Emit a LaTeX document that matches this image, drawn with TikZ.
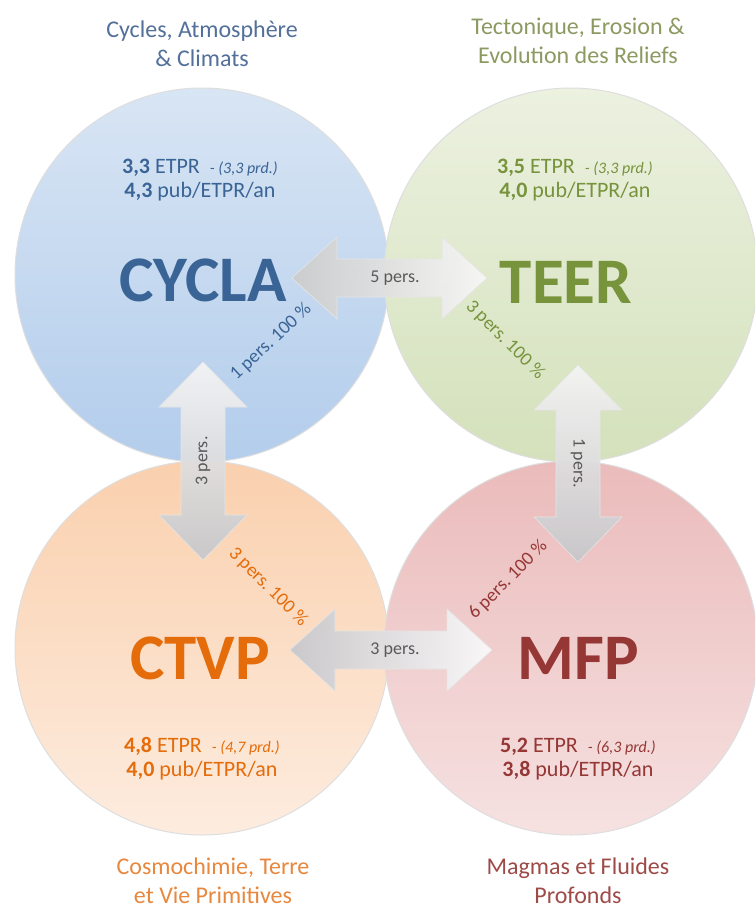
\documentclass[tikz,border=0pt]{standalone}
\usepackage{fontspec}
\setmainfont{Carlito}
\frenchspacing
\definecolor{cyB}{HTML}{3A6496}
\definecolor{cyT}{HTML}{52709A}
\definecolor{teG}{HTML}{77933C}
\definecolor{teT}{HTML}{8C9A62}
\definecolor{ctO}{HTML}{E46C0A}
\definecolor{ctT}{HTML}{E8883E}
\definecolor{mfR}{HTML}{953735}
\definecolor{mfT}{HTML}{9E4B48}
\definecolor{cyTop}{HTML}{D8E5F4}
\definecolor{cyBot}{HTML}{B3CDEC}
\definecolor{teTop}{HTML}{ECF1E0}
\definecolor{teBot}{HTML}{D4E1BB}
\definecolor{ctTop}{HTML}{FAD0AE}
\definecolor{ctBot}{HTML}{FDECDF}
\definecolor{mfTop}{HTML}{EBBBBB}
\definecolor{mfBot}{HTML}{F6E1E1}
\definecolor{arrowTxt}{HTML}{595959}
\newcommand\harrowpath[4]{\path[#4] (#1,#3) -- ++(45,-41) -- ++(0,22) -- ({#2-45},{#3-19}) -- ++(0,-22) -- (#2,#3) -- ({#2-45},{#3+41}) -- ++(0,-22) -- ({#1+45},{#3+19}) -- ++(0,22) -- cycle;}
\newcommand\varrowpath[4]{\path[#4] (#3,#1) -- ++(-44,45) -- ++(22,0) -- ({#3-22},{#2-45}) -- ++(-22,0) -- (#3,#2) -- ({#3+44},{#2-45}) -- ++(-22,0) -- ({#3+22},{#1+45}) -- ++(22,0) -- cycle;}
\newcommand\smallit[1]{{\fontsize{16}{16}\selectfont\itshape #1}}
\begin{document}
\begin{tikzpicture}[x=1pt,y=-1pt,
  bubble/.style={circle, minimum size=374pt, inner sep=0pt, draw=black!13, line width=1pt},
  titletxt/.style={align=center, font=\fontsize{24}{29}\selectfont},
  stattxt/.style={align=center, font=\fontsize{22}{24}\selectfont},
  bigtxt/.style={font=\fontsize{65}{65}\selectfont\bfseries},
  pctxt/.style={font=\fontsize{19}{19}\selectfont},
  arrtxt/.style={font=\fontsize{18}{18}\selectfont, text=arrowTxt},
  blockarrow/.style={draw=black!10, line width=0.6pt, fill opacity=0.93}]
\useasboundingbox (0,0) rectangle (755,910);
\fill[white] (0,0) rectangle (755,910);
\begin{scope}
\clip (0,0) rectangle (755,910);
\node[bubble, top color=cyTop, bottom color=cyBot] (cycla) at (202,275) {};
\node[bubble, top color=teTop, bottom color=teBot] (teer) at (571,275) {};
\node[bubble, top color=ctTop, bottom color=ctBot] (ctvp) at (202,648) {};
\node[bubble, top color=mfTop, bottom color=mfBot] (mfp) at (571,648) {};
\end{scope}

% titles
\node[titletxt, text=cyT] (tcy) at (202,44) {Cycles, Atmosphère\\\& Climats};
\node[titletxt, text=teT] (tte) at (578,41) {Tectonique, Erosion \&\\Evolution des Reliefs};
\node[titletxt, text=ctT] (tct) at (213,881) {Cosmochimie, Terre\\et Vie Primitives};
\node[titletxt, text=mfT] (tmf) at (578,881) {Magmas et Fluides\\Profonds};

% block arrows
\harrowpath{292}{487}{278}{blockarrow, left color=black!20, right color=black!3}
\harrowpath{290}{492}{650}{blockarrow, left color=blue!8!black!22, right color=black!2}
\varrowpath{362}{560}{203}{blockarrow, top color=black!4, bottom color=blue!6!black!22}
\varrowpath{365}{562}{578}{blockarrow, top color=black!4, bottom color=blue!6!black!22}

\node[arrtxt] (a1) at (395,278) {5 pers.};
\node[arrtxt] (a2) at (395,650) {3 pers.};
\node[arrtxt, rotate=90] (a3) at (203,461) {3 pers.};
\node[arrtxt, rotate=-90] (a4) at (578,463) {1 pers.};

% stats
\node[stattxt, text=cyB] (scy) at (200,180) {\textbf{3,3} ETPR\ \ \smallit{- (3,3 prd.)}\\\textbf{4,3} pub/ETPR/an};
\node[stattxt, text=teG] (ste) at (575,180) {\textbf{3,5} ETPR\ \ \smallit{- (3,3 prd.)}\\\textbf{4,0} pub/ETPR/an};
\node[stattxt, text=ctO] (sct) at (202,759) {\textbf{4,8} ETPR\ \ \smallit{- (4,7 prd.)}\\\textbf{4,0} pub/ETPR/an};
\node[stattxt, text=mfR] (smf) at (578,759) {\textbf{5,2} ETPR\ \ \smallit{- (6,3 prd.)}\\\textbf{3,8} pub/ETPR/an};

% big labels
\node[bigtxt, text=cyB] (lcy) at (203,280) {CYCLA};
\node[bigtxt, text=teG] (lte) at (566,282) {TEER};
\node[bigtxt, text=ctO] (lct) at (200,658) {CTVP};
\node[bigtxt, text=mfR] (lmf) at (578,658) {MFP};

% diagonal labels
\node[pctxt, text=cyB, rotate=43] (p1) at (271,342) {1 pers. 100 \%};
\node[pctxt, text=teG, rotate=-45] (p2) at (505,340) {3 pers. 100 \%};
\node[pctxt, text=ctO, rotate=-45] (p3) at (268,587) {3 pers. 100 \%};
\node[pctxt, text=mfR, rotate=45] (p4) at (508,580) {6 pers. 100 \%};
\end{tikzpicture}
\end{document}
